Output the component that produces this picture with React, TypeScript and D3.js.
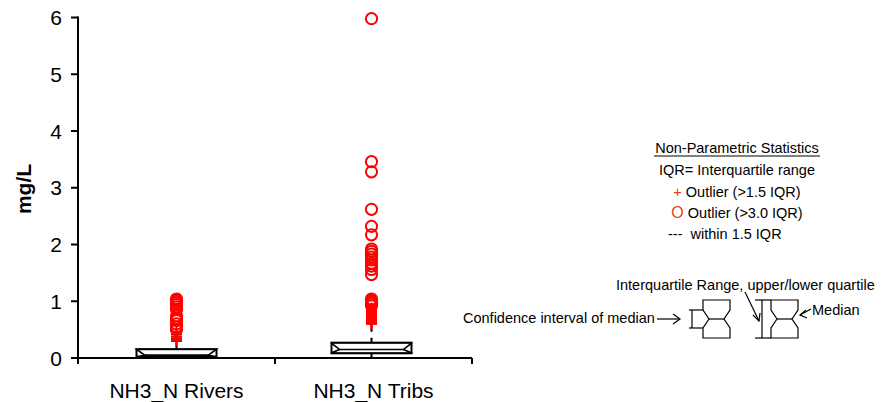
import React from "react";
import * as d3 from "d3";

const categories = ["NH3_N Rivers", "NH3_N Tribs"];
const q1 = [0.02, 0.083];
const medians = [0.05, 0.15];
const q3 = [0.155, 0.27];
const ciLow = [0.0, 0.09];
const ciHigh = [0.2, 0.26];
const whiskerLow = [0.0, 0.0];
const whiskerHigh = [0.3, 0.55];
const riversCrosses = [0.45, 0.42, 0.38, 0.35, 0.32, 0.3];
const riversCircles = [1.04, 1.02, 1.0, 0.97, 0.94, 0.9, 0.86, 0.74, 0.7, 0.66, 0.6, 0.55, 0.5];
const tribsCrosses = [0.88, 0.86, 0.84, 0.82, 0.8, 0.78, 0.76, 0.74, 0.72, 0.7, 0.68, 0.66, 0.64, 0.62, 0.6];
const tribsCircles = [5.98, 3.46, 3.28, 2.62, 2.32, 2.17, 1.92, 1.88, 1.83, 1.78, 1.73, 1.67, 1.62, 1.56, 1.47, 1.04, 1.02, 1.0, 0.98, 0.95, 0.92];
const crossesBySeries = [riversCrosses, tribsCrosses];
const circlesBySeries = [riversCircles, tribsCircles];
const yTicks = [0, 1, 2, 3, 4, 5, 6];
const yTitle = "mg/L";
const legendLines = ["IQR= Interquartile range", "Outlier (>1.5 IQR)", "Outlier (>3.0 IQR)"];

const FONT = "'Liberation Sans', Arial, Helvetica, sans-serif";
const RED = "#ff0000";

export default function App() {
  const x0 = 78, x1 = 472, yTop = 17.5, yBottom = 358;
  const x = d3.scaleBand<string>().domain(categories).range([x0, x1]);
  const y = d3.scaleLinear().domain([0, 6]).range([yBottom, yTop]);
  const boxW = 80;
  const inset = 8;
  const cs = 5.5;

  return (
    <svg width={881} height={402} style={{ position: "absolute", left: 0, top: 0, background: "#fff" }} fontFamily={FONT}>
      {/* Axes */}
      <line x1={x0} x2={x0} y1={yTop - 1} y2={yBottom + 6} stroke="#000" strokeWidth={2} />
      <line x1={x0 - 7} x2={x1} y1={yBottom} y2={yBottom} stroke="#000" strokeWidth={2} />
      {yTicks.map((t) => (
        <g key={t}>
          <line x1={x0 - 7} x2={x0} y1={y(t)} y2={y(t)} stroke="#000" strokeWidth={2} />
          <text x={x0 - 16} y={y(t) + 7.5} fontSize={21} textAnchor="end" fill="#000">{t}</text>
        </g>
      ))}
      {[x0 + x.bandwidth(), x1].map((v, i) => (
        <line key={i} x1={v} x2={v} y1={yBottom} y2={yBottom + 6} stroke="#000" strokeWidth={2} />
      ))}
      {categories.map((c) => (
        <text key={c} x={(x(c) as number) + x.bandwidth() / 2} y={398} fontSize={21} textAnchor="middle" fill="#000">{c}</text>
      ))}
      <text transform={`translate(31,189) rotate(-90)`} fontSize={21} fontWeight="bold" textAnchor="middle" fill="#000">{yTitle}</text>

      {/* Boxes */}
      {categories.map((c, i) => {
        const cx = (x(c) as number) + x.bandwidth() / 2 + (i === 1 ? -2 : 0);
        const l = cx - boxW / 2, r = cx + boxW / 2;
        const yq1 = y(q1[i]), yq3 = y(q3[i]), ym = y(medians[i]);
        const nHi = Math.max(y(ciHigh[i]), yq3);
        const nLo = Math.min(y(ciLow[i]), yq1);
        const path = d3.path();
        path.moveTo(l, yq3);
        path.lineTo(r, yq3);
        path.lineTo(r, nHi);
        path.lineTo(r - inset, ym);
        path.lineTo(r, nLo);
        path.lineTo(r, yq1);
        path.lineTo(l, yq1);
        path.lineTo(l, nLo);
        path.lineTo(l + inset, ym);
        path.lineTo(l, nHi);
        path.closePath();
        return (
          <g key={c}>
            <line x1={cx} x2={cx} y1={yq3} y2={y(whiskerHigh[i])} stroke="#000" strokeWidth={2} strokeDasharray="5,6" />
            <line x1={cx} x2={cx} y1={yq1} y2={y(whiskerLow[i])} stroke="#000" strokeWidth={2} />
            <rect x={l} y={yq3} width={boxW} height={yq1 - yq3} fill="#fff" stroke="#000" strokeWidth={2} />
            <path d={path.toString()} fill="none" stroke="#000" strokeWidth={1.6} />
            <line x1={l + inset} x2={r - inset} y1={ym} y2={ym} stroke="#000" strokeWidth={1.6} />
            {crossesBySeries[i].map((v, k) => (
              <g key={"c" + k} stroke={RED} strokeWidth={2}>
                <line x1={cx - cs} x2={cx + cs} y1={y(v)} y2={y(v)} />
                <line x1={cx} x2={cx} y1={y(v) - cs} y2={y(v) + cs} />
              </g>
            ))}
            {circlesBySeries[i].map((v, k) => (
              <circle key={"o" + k} cx={cx} cy={y(v)} r={5.6} fill="none" stroke={RED} strokeWidth={2} />
            ))}
          </g>
        );
      })}

      {/* Legend */}
      <g fontSize={14.5} fill="#000">
        <text x={737} y={153} textAnchor="middle">Non-Parametric Statistics</text>
        <line x1={654} x2={820} y1={156} y2={156} stroke="#000" strokeWidth={1} />
        <text x={737} y={175} textAnchor="middle">{legendLines[0]}</text>
        <text x={737} y={197} textAnchor="middle"><tspan fill="#f03c1e">+</tspan> {legendLines[1]}</text>
        <text x={737} y={218} textAnchor="middle"><tspan fill="#f03c1e" fontSize={16}>O</tspan> {legendLines[2]}</text>
        <text x={668} y={239} xmlSpace="preserve">{"---  within 1.5 IQR"}</text>
      </g>

      {/* Explanatory diagram */}
      <g fontSize={14.5} fill="#000" stroke="none">
        <text x={616} y={290}>Interquartile Range, upper/lower quartile</text>
        <text x={463} y={323}>Confidence interval of median</text>
        <text x={812} y={315}>Median</text>
      </g>
      <g fill="none" stroke="#000" strokeWidth={1.2}>
        <line x1={657} x2={680} y1={319} y2={319} />
        <polyline points="673,314 680,319 673,324" />
        <line x1={692} x2={692} y1={310} y2={328} />
        <line x1={689} x2={703} y1={310} y2={310} />
        <line x1={689} x2={703} y1={328} y2={328} />
        <path d="M703,300 L730,300 L730,310 L724,319 L730,328 L730,338 L703,338 L703,328 L709,319 L703,310 Z" />
        <line x1={709} x2={724} y1={319} y2={319} />
        <line x1={762} x2={762} y1={300} y2={338} />
        <line x1={755} x2={771} y1={300} y2={300} />
        <line x1={755} x2={771} y1={338} y2={338} />
        <path d="M771,300 L798,300 L798,310 L792,319 L798,328 L798,338 L771,338 L771,328 L777,319 L771,310 Z" />
        <line x1={777} x2={792} y1={319} y2={319} />
        <line x1={745} x2={759} y1={292} y2={321} />
        <polyline points="753,315 759,321 760,313" />
        <line x1={811} x2={800} y1={309} y2={315} />
        <polyline points="806,310 800,315 807,318" />
      </g>
    </svg>
  );
}
